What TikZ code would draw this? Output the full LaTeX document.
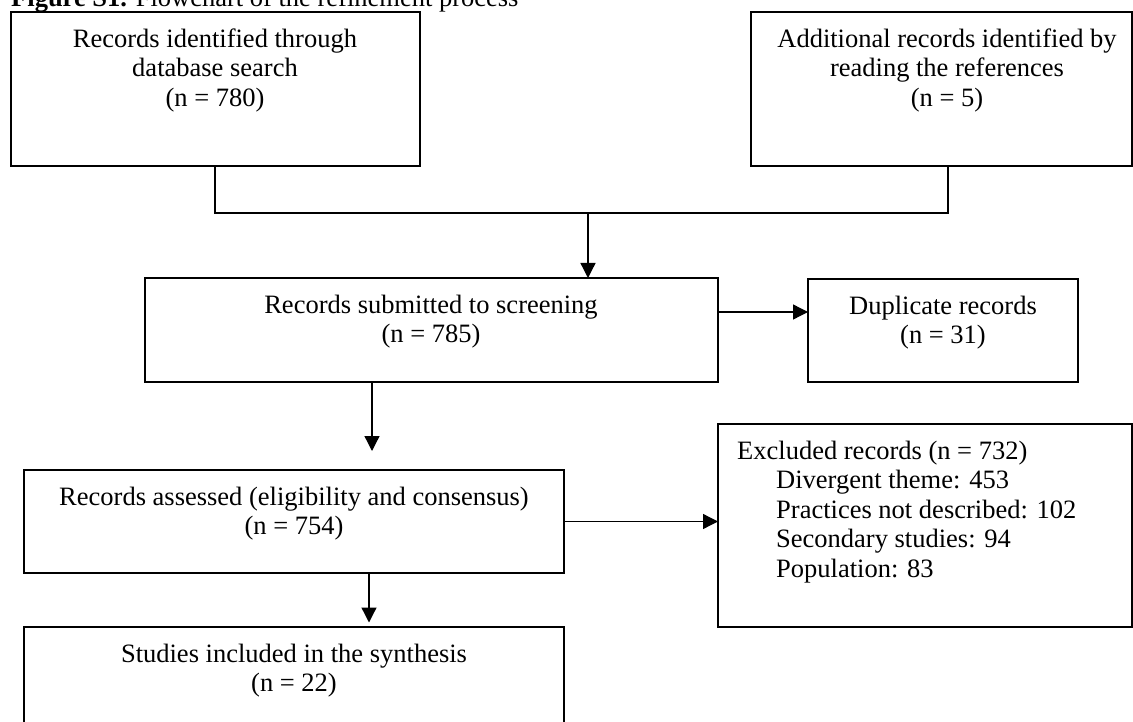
\documentclass[tikz,border=0pt]{standalone}
\usepackage{fontspec}
\setmainfont{Liberation Serif}
\usetikzlibrary{arrows.meta}
\newcommand\firststrut{\rule{0pt}{20pt}}
\begin{document}
\begin{tikzpicture}[x=1pt,y=-1pt,
  box/.style={draw, line width=2pt, outer sep=0pt, inner sep=0pt},
  txt/.style={inner sep=0pt, anchor=north, align=center, font=\fontsize{26.5}{29.5}\selectfont},
  conn/.style={line width=1.3pt},
  arr/.style={conn, -{Triangle[length=15pt,width=15pt]}}]
\useasboundingbox (0,0) rectangle (1133,722);
\clip (0,0) rectangle (1133,722);

% title
\node[anchor=base west, inner sep=0pt, font=\fontsize{26.5}{29.5}\selectfont] (title) at (11,7)
  {\textbf{Figure S1.} Flowchart of the refinement process};

% boxes
\node[box, minimum width=409pt, minimum height=154pt] (A) at (215.5,89) {};
\node[box, minimum width=381pt, minimum height=154pt] (B) at (941.5,89) {};
\node[box, minimum width=573pt, minimum height=104pt] (S) at (431.5,330) {};
\node[box, minimum width=270pt, minimum height=103pt] (D) at (943,330.5) {};
\node[box, minimum width=540pt, minimum height=103pt] (E) at (294,521.5) {};
\node[box, minimum width=414pt, minimum height=203pt] (X) at (925,525.5) {};
\node[box, minimum width=540pt, minimum height=133pt] (I) at (294,693.5) {};

% texts
\node[txt] (tA) at (215,27) {\firststrut Records identified through\\database search\\(n = 780)};
\node[txt] (tB) at (947,27) {\firststrut Additional records identified by\\reading the references\\(n = 5)};
\node[txt] (tS) at (431,293) {\firststrut Records submitted to screening\\(n = 785)};
\node[txt] (tD) at (943,294) {\firststrut Duplicate records\\(n = 31)};
\node[txt] (tE) at (294,485) {\firststrut Records assessed (eligibility and consensus)\\(n = 754)};
\node[txt, anchor=north west, align=left] (tX) at (737,439) {\firststrut Excluded records (n = 732)\\
  \hspace*{39pt}Divergent theme: 453\\
  \hspace*{39pt}Practices not described: 102\\
  \hspace*{39pt}Secondary studies: 94\\
  \hspace*{39pt}Population: 83};
\node[txt] (tI) at (294,642) {\firststrut Studies included in the synthesis\\(n = 22)};

% connectors
\coordinate (j1) at (215,213);
\coordinate (j2) at (948,213);
\coordinate (j3) at (588,213);
\coordinate (c1) at (372,0);
\coordinate (c2) at (369,0);
\draw[conn] (j1 |- A.south) -- (j1) -- (j2) -- (j2 |- B.south);
\draw[arr] (j3) -- (j3 |- S.north);
\draw[arr] ([yshift=18pt]S.east) -- ([yshift=18pt]S.east -| D.west);
\draw[arr, shorten >=19pt] (c1 |- S.south) -- (c1 |- E.north);
\draw[arr] (E.east) -- (E.east -| X.west);
\draw[arr, shorten >=4.5pt] (c2 |- E.south) -- (c2 |- I.north);
\end{tikzpicture}
\end{document}
